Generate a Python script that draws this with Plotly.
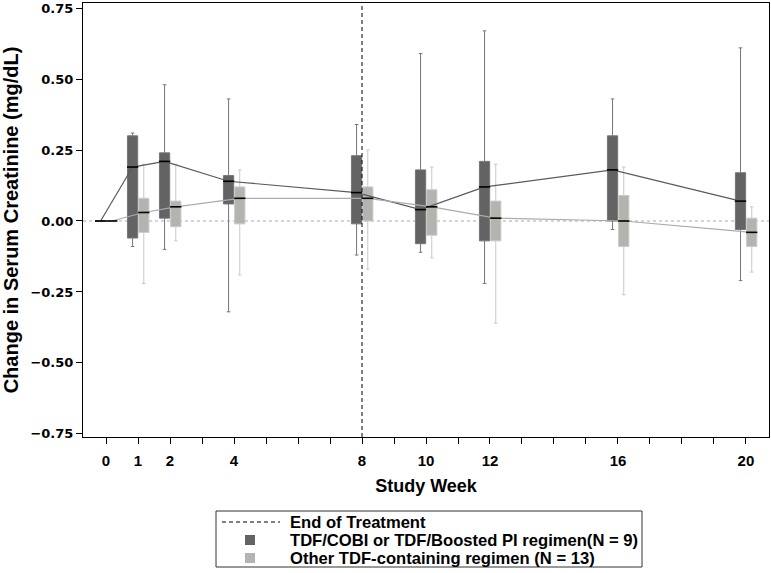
import plotly.graph_objects as go

weeks = [0, 1, 2, 4, 8, 10, 12, 16, 20]
tick_labels = {0: "0", 1: "1", 2: "2", 4: "4", 8: "8", 10: "10", 12: "12", 16: "16", 20: "20"}

# Group A: TDF/COBI or TDF/Boosted PI regimen (N = 9)
a_q1 = [0, -0.06, 0.01, 0.06, -0.01, -0.08, -0.07, 0.00, -0.03]
a_med = [0, 0.19, 0.21, 0.14, 0.10, 0.04, 0.12, 0.18, 0.07]
a_q3 = [0, 0.30, 0.24, 0.16, 0.23, 0.18, 0.21, 0.30, 0.17]
a_lo = [0, -0.09, -0.10, -0.32, -0.12, -0.11, -0.22, -0.03, -0.21]
a_hi = [0, 0.31, 0.48, 0.43, 0.34, 0.59, 0.67, 0.43, 0.61]

# Group B: Other TDF-containing regimen (N = 13)
b_q1 = [0, -0.04, -0.02, -0.01, 0.00, -0.05, -0.07, -0.09, -0.09]
b_med = [0, 0.03, 0.05, 0.08, 0.08, 0.05, 0.01, 0.00, -0.04]
b_q3 = [0, 0.08, 0.07, 0.12, 0.12, 0.11, 0.07, 0.09, 0.01]
b_lo = [0, -0.22, -0.07, -0.19, -0.17, -0.13, -0.36, -0.26, -0.18]
b_hi = [0, 0.20, 0.20, 0.18, 0.25, 0.19, 0.20, 0.19, 0.05]

end_of_treatment_week = 8

legend_labels = ["End of Treatment",
                 "TDF/COBI or TDF/Boosted PI regimen(N = 9)",
                 "Other TDF-containing regimen (N = 13)"]

off_a, off_b, bw = -0.17, 0.18, 0.32
xa = [w + off_a for w in weeks]
xb = [w + off_b for w in weeks]

dark_fill, dark_line, dark_conn = "#636363", "#767676", "#5a5a5a"
light_fill, light_line, light_conn = "#b3b3b0", "#c9c9c9", "#ababab"

fig = go.Figure()

fig.add_trace(go.Box(x=xa, q1=a_q1, median=a_med, q3=a_q3, lowerfence=a_lo, upperfence=a_hi,
                     width=bw, whiskerwidth=0.35, fillcolor=dark_fill,
                     line=dict(color=dark_line, width=1), name=legend_labels[1], boxpoints=False))
fig.add_trace(go.Box(x=xb, q1=b_q1, median=b_med, q3=b_q3, lowerfence=b_lo, upperfence=b_hi,
                     width=bw, whiskerwidth=0.35, fillcolor=light_fill,
                     line=dict(color=light_line, width=1), name=legend_labels[2], boxpoints=False))

# connecting median lines
fig.add_trace(go.Scatter(x=xa, y=a_med, mode="lines", line=dict(color=dark_conn, width=1.2),
                         hoverinfo="skip"))
fig.add_trace(go.Scatter(x=xb, y=b_med, mode="lines", line=dict(color=light_conn, width=1.2),
                         hoverinfo="skip"))
# black median markers
for xs, ms in ((xa, a_med), (xb, b_med)):
    fig.add_trace(go.Scatter(x=xs, y=ms, mode="markers",
                             marker=dict(symbol="line-ew-open", size=8, color="black",
                                         line=dict(color="black", width=1.6)),
                             hoverinfo="skip"))

# zero reference line (dotted) and end-of-treatment line (dashed)
fig.add_shape(type="line", xref="paper", x0=0, x1=1, yref="y", y0=0, y1=0,
              line=dict(color="#aaaaaa", width=1.2, dash="dot"), layer="below")
fig.add_shape(type="line", xref="x", x0=end_of_treatment_week, x1=end_of_treatment_week,
              yref="paper", y0=0, y1=1, line=dict(color="black", width=1, dash="4px,3px"))

# ---- custom legend below the plot (paper coordinates) ----
font_family = "Liberation Sans"
PW, PH = 686.0, 434.0   # plot area size in px
def px(dx):
    return dx / PW
def py(dy):
    return dy / PH

lg_x0, lg_x1 = px(133), px(559)
lg_y1, lg_y0 = py(-74), py(-130)
fig.add_shape(type="rect", xref="paper", yref="paper", x0=lg_x0, x1=lg_x1, y0=lg_y0, y1=lg_y1,
              line=dict(color="#333333", width=1), fillcolor="white")
row_y = [py(-85), py(-103), py(-121)]
# dashed line key
fig.add_shape(type="line", xref="paper", yref="paper", x0=px(139), x1=px(197),
              y0=row_y[0], y1=row_y[0], line=dict(color="black", width=1, dash="4px,3px"))
# square keys
for ry, col in ((row_y[1], dark_fill), (row_y[2], light_fill)):
    fig.add_shape(type="rect", xref="paper", yref="paper", x0=px(162), x1=px(172),
                  y0=ry - py(5), y1=ry + py(5), line=dict(width=0), fillcolor=col)
for ry, txt in zip(row_y, legend_labels):
    fig.add_annotation(xref="paper", yref="paper", x=px(205), y=ry, text=txt, showarrow=False,
                       xanchor="left", yanchor="middle",
                       font=dict(family=font_family, size=16.6, weight="bold", color="black"))

all_ticks = list(range(0, 21))
fig.update_layout(
    width=771, height=573,
    margin=dict(l=83, r=2, t=3, b=136, autoexpand=False),
    plot_bgcolor="white", paper_bgcolor="white",
    font=dict(family=font_family, color="black"),
    showlegend=False,
    xaxis=dict(range=[-0.72, 20.72], tickvals=all_ticks,
               ticktext=[tick_labels.get(t, "") for t in all_ticks],
               ticks="outside", ticklen=6, tickcolor="black", automargin=False,
               ticklabelstandoff=4,
               showline=True, linecolor="black", linewidth=1, mirror=True,
               showgrid=False, zeroline=False,
               tickfont=dict(family=font_family, size=15, weight="bold"),
               title=dict(text="Study Week", font=dict(size=18, weight="bold"), standoff=11)),
    yaxis=dict(range=[-0.761, 0.768], tickvals=[-0.75, -0.5, -0.25, 0, 0.25, 0.5, 0.75],
               tickformat=".2f", ticks="outside", ticklen=6, tickcolor="black", automargin=False,
               showline=True, linecolor="black", linewidth=1, mirror=True,
               showgrid=False, zeroline=False,
               tickfont=dict(family="DejaVu Sans", size=13, weight="bold"),
               title=dict(text="Change in Serum Creatinine (mg/dL)", font=dict(size=20, weight="bold"),
                          standoff=6)),
)

fig.write_html("out.html", config={"displayModeBar": False},
               post_script="document.body.style.margin='0px';")
